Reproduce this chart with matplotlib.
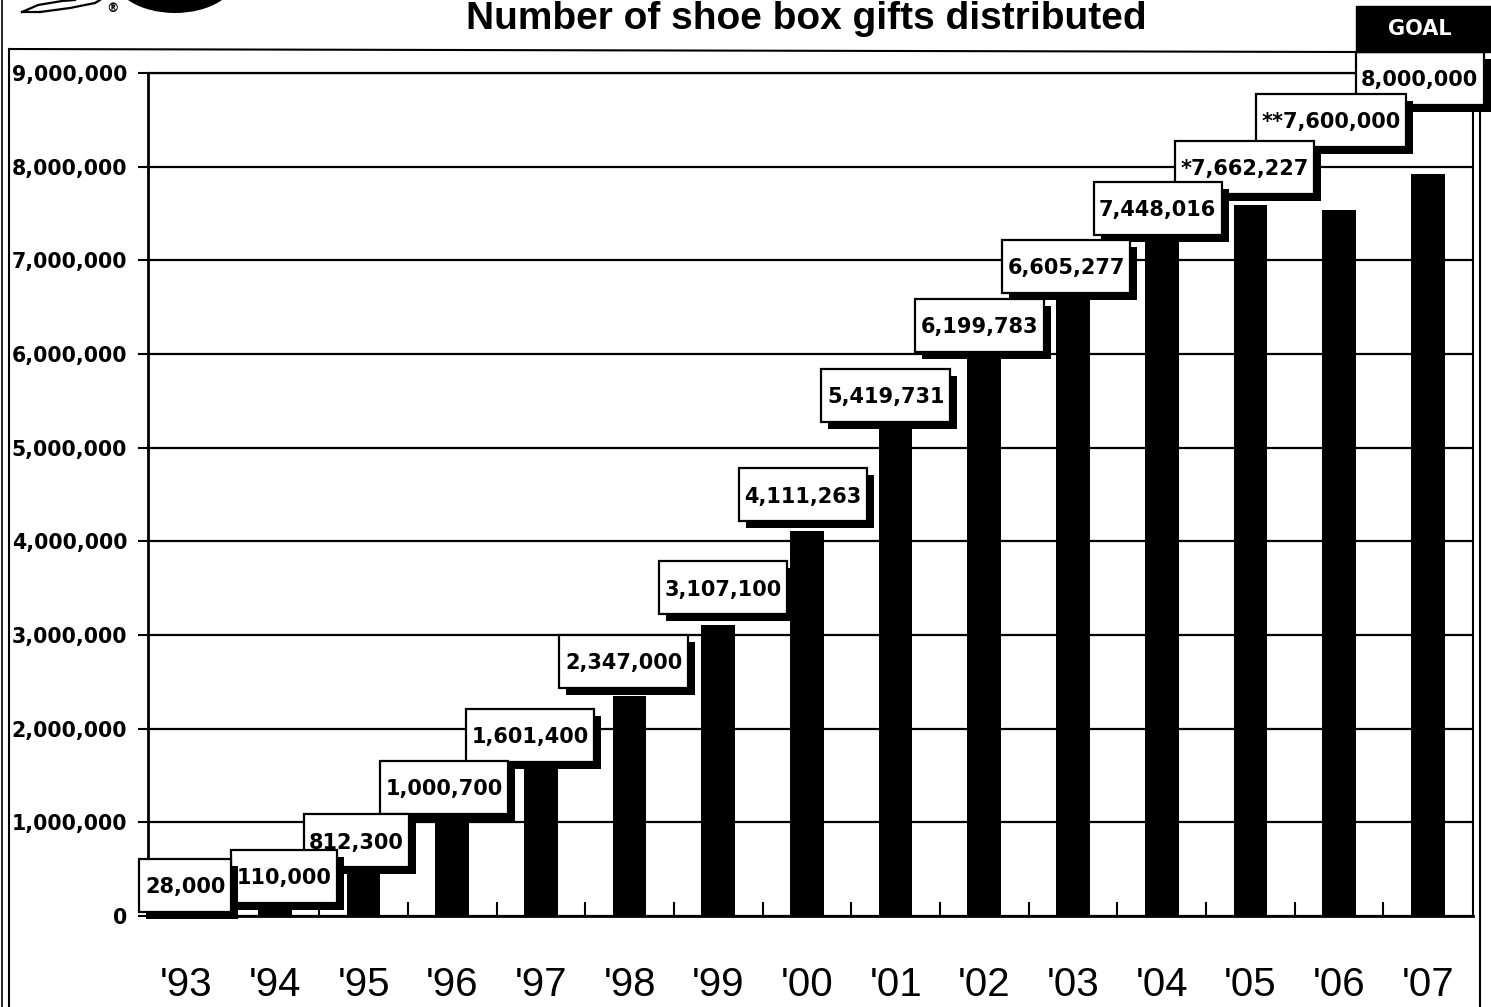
import matplotlib
matplotlib.use("Agg")
import matplotlib.pyplot as plt
from matplotlib.patches import Rectangle, Ellipse
from matplotlib.lines import Line2D
import numpy as np

# ---------------- data ----------------
years = ["'93", "'94", "'95", "'96", "'97", "'98", "'99", "'00",
         "'01", "'02", "'03", "'04", "'05", "'06", "'07"]
bar_values = [28000, 110000, 812300, 1000700, 1601400, 2347000, 3107100,
              4111263, 5419731, 6199783, 6605277, 7448016, 7590000,
              7540000, 7920000]
value_labels = ["28,000", "110,000", "812,300", "1,000,700", "1,601,400",
                "2,347,000", "3,107,100", "4,111,263", "5,419,731",
                "6,199,783", "6,605,277", "7,448,016", "*7,662,227",
                "**7,600,000", "8,000,000"]
y_ticks = [0, 1000000, 2000000, 3000000, 4000000, 5000000, 6000000,
           7000000, 8000000, 9000000]
y_tick_labels = ["0", "1,000,000", "2,000,000", "3,000,000", "4,000,000",
                 "5,000,000", "6,000,000", "7,000,000", "8,000,000",
                 "9,000,000"]
title = "Number of shoe box gifts distributed"
goal_label = "GOAL"

# ---------------- layout (pixels) ----------------
# offset of each label box centre from the top of its bar
label_dx = [-1, 9, -7, -8, -11, -6, 5, -4, -10, -5, -7, -4, -6, -8, -8]
label_dy = [28, 29, -1, 35, 31, 35, 37, 36, 13, 10, 31, 10, 38, 89, 96]

W, H, DPI = 1491, 1007, 100
fig = plt.figure(figsize=(W / DPI, H / DPI), dpi=DPI)
fig.patch.set_facecolor("white")


def ff(xp, yp_top):
    """pixel (origin top-left) -> figure fraction"""
    return xp / W, 1 - yp_top / H


ax = fig.add_axes([148 / W, 1 - 916 / H, (1473 - 148) / W, (916 - 73) / H])
x = np.arange(len(years))
ax.bar(x, bar_values, width=0.38, color="black", zorder=3)
ax.set_xlim(-0.43, 14.51)
ax.set_ylim(0, 9000000)

ax.set_yticks(y_ticks)
ax.set_yticklabels(y_tick_labels, fontfamily="DejaVu Sans",
                   fontweight="bold", fontsize=14.8)
ax.tick_params(axis="y", direction="out", length=7, width=1.5, pad=8)

ax.set_xticks(x)
ax.set_xticklabels(years, fontfamily="Liberation Sans", fontsize=29)
ax.tick_params(axis="x", which="major", length=0, pad=36)
ax.set_xticks(x[1:] - 0.5, minor=True)
ax.tick_params(axis="x", which="minor", direction="in", length=10, width=1.5)

ax.yaxis.grid(True, color="black", lw=1.6)
ax.set_axisbelow(True)
for side, lw in [("left", 2.0), ("bottom", 2.0), ("right", 1.5), ("top", 1.6)]:
    ax.spines[side].set_linewidth(lw)
    ax.spines[side].set_color("black")

# ---------------- value boxes ----------------
renderer = fig.canvas.get_renderer()
fs = 15
cap_px = 0.73 * fs * DPI / 72
box_h = 53
shadow = 7
boxes = []
for i, (v, lab) in enumerate(zip(bar_values, value_labels)):
    bx, by = ax.transData.transform((x[i], v))
    cx, cy = bx + label_dx[i], by + label_dy[i]
    base = 100 - 3 * i
    t = fig.text(cx / W, (cy - cap_px / 2) / H, lab, ha="center",
                 va="baseline", fontsize=fs, fontweight="bold",
                 fontfamily="DejaVu Sans", color="black", zorder=base + 2)
    tw = t.get_window_extent(renderer).width
    bw = tw + 11
    x0, y0 = cx - bw / 2, cy - box_h / 2
    fig.add_artist(Rectangle(((x0 + shadow) / W, (y0 - shadow) / H), bw / W,
                             box_h / H, transform=fig.transFigure,
                             facecolor="black", edgecolor="none",
                             zorder=base))
    fig.add_artist(Rectangle((x0 / W, y0 / H), bw / W, box_h / H,
                             transform=fig.transFigure, facecolor="white",
                             edgecolor="black", lw=1.6, zorder=base + 1))
    boxes.append((x0, y0, bw))

# GOAL header above last box
gx0, gy0, gw = boxes[-1]
goal_h = 46
gtop = gy0 + box_h
fig.add_artist(Rectangle(((gx0) / W, gtop / H), (gw + shadow) / W,
                         goal_h / H, transform=fig.transFigure,
                         facecolor="black", edgecolor="black", zorder=60))
fig.text((gx0 + gw / 2) / W, (gtop + goal_h / 2) / H, goal_label,
         ha="center", va="center", fontsize=15, fontweight="bold",
         fontfamily="DejaVu Sans", color="white", zorder=61)

# ---------------- frame / decorations ----------------
frame_lines = [
    ([2, 2], [0, 1007], 1.2),
    ([9, 9], [49, 1007], 1.5),
    ([9, 1356], [49, 52], 1.5),
    ([1480, 1480], [100, 1007], 1.5),
]
for xs, ys, lw in frame_lines:
    fx = [xx / W for xx in xs]
    fy = [1 - yy / H for yy in ys]
    fig.add_artist(Line2D(fx, fy, transform=fig.transFigure, color="black",
                          lw=lw, zorder=5))

# title
tx, ty = ff(806, 29)
fig.text(tx, ty, title, ha="center", va="baseline", fontsize=28,
         fontweight="bold", fontfamily="Liberation Sans")

# logo fragments at top-left
ex, ey = ff(175, -25)
fig.add_artist(Ellipse((ex, ey), 125 / W, 76 / H, transform=fig.transFigure,
                       facecolor="black", edgecolor="none"))
rx, ry = ff(112, 9)
fig.text(rx, ry, "®", ha="center", va="center", fontsize=9,
         fontfamily="DejaVu Sans", fontweight="bold")
for pts in ([(22, 12), (38, 5), (62, 1), (75, 0)],
            [(40, 12), (70, 8), (95, 3), (100, 0)],
            [(22, 12), (40, 12)]):
    fx = [p[0] / W for p in pts]
    fy = [1 - p[1] / H for p in pts]
    fig.add_artist(Line2D(fx, fy, transform=fig.transFigure, color="black",
                          lw=1.6))

fig.savefig("out.png", dpi=DPI, facecolor="white")
